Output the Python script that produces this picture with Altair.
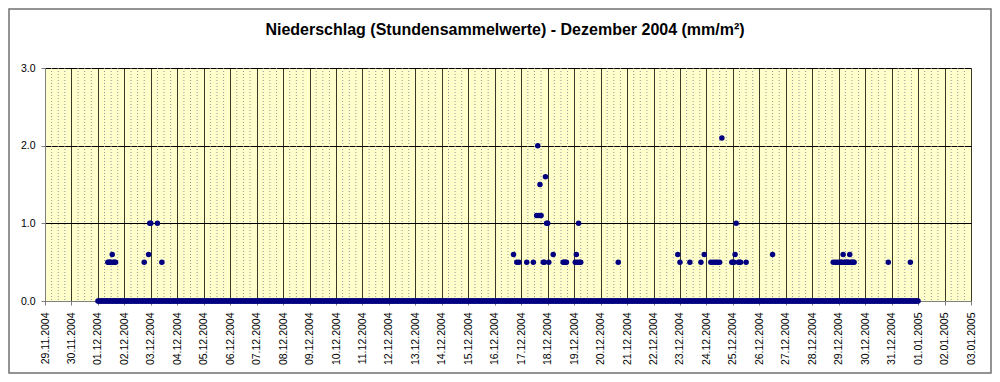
import altair as alt
import pandas as pd

# ---- data (hourly precipitation, Dec 2004) ----
# nonzero hourly values: (day of December, hour, mm/m²)
evt_day = [1, 1, 1, 1, 1, 1, 1, 1,
           2, 2, 2, 3, 3, 3,
           16, 16, 16,
           17, 17, 17, 17, 17, 17, 17, 17, 17, 17, 17,
           18, 18, 18, 18, 18, 18, 18,
           19, 19, 19, 19, 19, 19,
           20, 22,
           23, 23, 23, 23,
           24, 24, 24, 24, 24, 24, 24,
           25, 25, 25, 25, 25, 25, 25, 25,
           26,
           28, 28, 28,
           29, 29, 29, 29, 29, 29, 29, 29, 29, 29, 29, 29, 29, 29,
           30, 31]
evt_hour = [9, 10, 11, 12, 13, 14, 15, 16,
            18, 22, 23, 0, 6, 10,
            17, 20, 22,
            5, 11, 14, 15, 16, 17, 18, 20, 21, 22, 23,
            0, 1, 5, 14, 15, 16, 17,
            1, 2, 3, 4, 5, 6,
            16, 22,
            0, 9, 19, 22,
            4, 6, 8, 10, 12, 14, 23,
            0, 1, 2, 3, 5, 6, 7, 12,
            12,
            19, 21, 23,
            1, 2, 3, 4, 5, 6, 7, 8, 9, 10, 11, 12, 13, 14,
            21, 17]
evt_value = [0.5, 0.5, 0.5, 0.5, 0.6, 0.5, 0.5, 0.5,
             0.5, 0.6, 1.0, 1.0, 1.0, 0.5,
             0.6, 0.5, 0.5,
             0.5, 0.5, 1.1, 2.0, 1.1, 1.5, 1.1, 0.5, 0.5, 1.6, 1.0,
             1.0, 0.5, 0.6, 0.5, 0.5, 0.5, 0.5,
             0.5, 0.6, 0.5, 1.0, 0.5, 0.5,
             0.5, 0.6,
             0.5, 0.5, 0.5, 0.6,
             0.5, 0.5, 0.5, 0.5, 0.5, 2.1, 0.5,
             0.5, 0.5, 0.6, 1.0, 0.5, 0.5, 0.5, 0.5,
             0.6,
             0.5, 0.5, 0.5,
             0.5, 0.5, 0.5, 0.6, 0.5, 0.5, 0.5, 0.5, 0.5, 0.6, 0.5, 0.5, 0.5, 0.5,
             0.5, 0.5]

# x axis: one tick per day, 29.11.2004 .. 03.01.2005
day_labels = ["29.11.2004", "30.11.2004"] + ["%02d.12.2004" % d for d in range(1, 32)] + \
             ["01.01.2005", "02.01.2005", "03.01.2005"]
title_text = "Niederschlag (Stundensammelwerte) - Dezember 2004 (mm/m²)"
y_ticks = [0, 1, 2, 3]

# x position = hours since 29.11.2004 00:00 ; December starts at hour 48
zero_rows = [{"hrs": h, "v": 0.0} for h in range(48, 48 + 31 * 24 + 1)]   # 0.0 baseline, 01.12 00h .. 01.01 00h
rain_rows = [{"hrs": 48 + (d - 1) * 24 + h, "v": v} for d, h, v in zip(evt_day, evt_hour, evt_value)]
df = pd.DataFrame(zero_rows + rain_rows)

n_hours = 24 * (len(day_labels) - 1)
day_ticks = [24 * i for i in range(len(day_labels))]
minor_ticks = pd.DataFrame({"hrs": [h for h in range(6, n_hours, 6) if h % 24 != 0]})

xscale = alt.Scale(domain=[0, n_hours], nice=False, zero=False)
yscale = alt.Scale(domain=[0, 3], nice=False)

font = "Liberation Sans"
navy = "#000080"

label_expr = "[" + ",".join("'%s'" % s for s in day_labels) + "][round(datum.value / 24)]"

x_axis = alt.Axis(grid=True, gridColor="#3a3a28", gridWidth=1,
                  values=day_ticks, labelExpr=label_expr, labelAngle=270,
                  labelFlush=False, labelOverlap=False,
                  labelFont=font, labelFontSize=10.5, labelColor="#000",
                  labelPadding=7, tickSize=4, tickColor="#808080",
                  domainColor="#808080", title=None)
y_axis = alt.Axis(values=y_ticks, format=".1f", grid=True, gridColor="#000",
                  gridWidth=1, labelFont=font, labelFontSize=10.5, labelColor="#000",
                  labelPadding=6, tickSize=4, tickColor="#808080",
                  domainColor="#808080", title=None)

minor = alt.Chart(minor_ticks).mark_rule(color="#969696", strokeWidth=1, strokeDash=[1, 2]).encode(
    x=alt.X("hrs:Q", scale=xscale, axis=x_axis)
)

points = alt.Chart(df).mark_circle(size=30, opacity=1, color=navy).encode(
    x=alt.X("hrs:Q", scale=xscale, axis=x_axis),
    y=alt.Y("v:Q", scale=yscale, axis=y_axis),
)

title = alt.Chart(pd.DataFrame({"txt": [title_text]})).mark_text(
    font=font, fontSize=16, fontWeight="bold", color="#000", align="center", baseline="middle"
).encode(text="txt:N", x=alt.value(460), y=alt.value(-38))

border = alt.Chart(pd.DataFrame({"a": [0]})).mark_rect(
    fill="#ffffff", fillOpacity=0, stroke="#707070", strokeWidth=1.5
).encode(x=alt.value(-36), x2=alt.value(946), y=alt.value(-59), y2=alt.value(305))

chart = alt.layer(minor, points, title, border).properties(
    width=926, height=233,
    autosize=alt.AutoSizeParams(type="none"),
    padding={"left": 37, "top": 60, "right": 21, "bottom": 73},
    background="#ffffff",
).configure_view(fill="#FFFFCC", stroke=None)

chart.save("out.html", embed_options={"renderer": "svg", "actions": False})
